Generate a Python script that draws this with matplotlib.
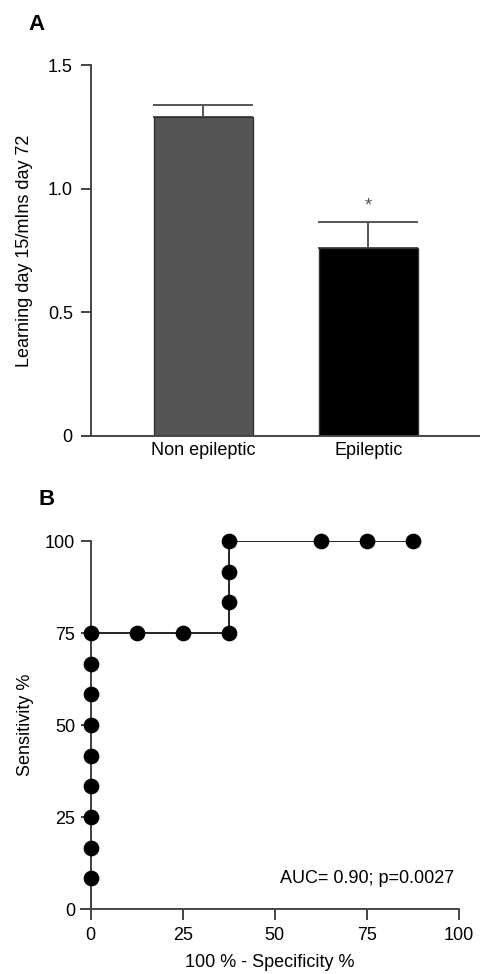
#!/usr/bin/env python3
import numpy as np
from matplotlib import pyplot as plt

plt.rcParams['font.family'] = ['Liberation Sans', 'DejaVu Sans']

### Data
# panel A
groups = ['Non epileptic', 'Epileptic']
means = [1.29, 0.76]
sem = [0.05, 0.105]
bar_colors = ['#555555', '#000000']

# panel B (ROC curve)
roc_x = [0, 0, 0, 0, 0, 0, 0, 0, 0, 12.5, 25, 37.5, 37.5, 37.5, 37.5, 62.5, 75, 87.5]
roc_y = [8.33, 16.67, 25, 33.33, 41.67, 50, 58.33, 66.67, 75, 75, 75, 75,
         83.33, 91.67, 100, 100, 100, 100]
auc_text = 'AUC= 0.90; p=0.0027'

AX_COLOR = '#444444'
FS = 13


def style_axes(ax):
    ax.spines['top'].set_visible(False)
    ax.spines['right'].set_visible(False)
    for s in ('left', 'bottom'):
        ax.spines[s].set_linewidth(1.4)
        ax.spines[s].set_color(AX_COLOR)
    ax.tick_params(width=1.4, color=AX_COLOR, labelsize=FS, direction='out')


fig = plt.figure(figsize=(4.8, 9.74), dpi=100)

### Panel A
axA = fig.add_axes([83 / 480, 1 - 436 / 974, 397 / 480, 371 / 974])
xpos = np.arange(len(groups))
axA.bar(xpos, means, width=0.6, color=bar_colors, edgecolor='#333333', linewidth=1.0, zorder=2)
axA.errorbar(xpos, means, yerr=[[0, 0], sem], fmt='none', ecolor='#555555',
             elinewidth=1.4, capsize=36, capthick=1.4, zorder=1)
axA.text(xpos[1], means[1] + sem[1] + 0.065, '*', ha='center', va='center',
         fontsize=13, color='#555555')
axA.set_xlim(-0.73, 1.676)
axA.set_ylim(0, 1.5)
axA.spines['left'].set_position(('data', -0.682))
axA.set_yticks([0, 0.5, 1.0, 1.5])
axA.set_yticklabels(['0', '0.5', '1.0', '1.5'])
axA.set_xticks(xpos)
axA.set_xticklabels(groups, fontsize=FS)
style_axes(axA)
axA.tick_params(axis='x', length=0, pad=4)
axA.tick_params(axis='y', length=7, pad=6)
axA.set_ylabel('Learning day 15/mIns day 72', fontsize=FS, labelpad=11)
fig.text(28 / 480, 1 - 24 / 974, 'A', fontsize=16, fontweight='bold', va='center', ha='left')

### Panel B
axB = fig.add_axes([81 / 480, 1 - 909 / 974, 378 / 480, 368 / 974])
axB.plot([0] + roc_x, [0] + roc_y, color='black', linewidth=1.2, marker=None, zorder=2)
axB.plot(roc_x, roc_y, linestyle='none', marker='o', markersize=10.3,
         color='black', clip_on=False, zorder=3)
axB.set_xlim(-2.6, 100)
axB.set_ylim(0, 100)
axB.spines['left'].set_position(('data', 0))
axB.set_xticks([0, 25, 50, 75, 100])
axB.set_yticks([0, 25, 50, 75, 100])
style_axes(axB)
axB.tick_params(axis='x', length=8, pad=5)
axB.tick_params(axis='y', length=7, pad=4)
axB.text(98.6, 8.4, auc_text, ha='right', va='center', fontsize=FS)
axB.set_xlabel('100 % - Specificity %', fontsize=FS, labelpad=7)
axB.set_ylabel('Sensitivity %', fontsize=FS, labelpad=8)
fig.text(38 / 480, 1 - 500 / 974, 'B', fontsize=16, fontweight='bold', va='center', ha='left')

fig.savefig('out.png', dpi=100)
